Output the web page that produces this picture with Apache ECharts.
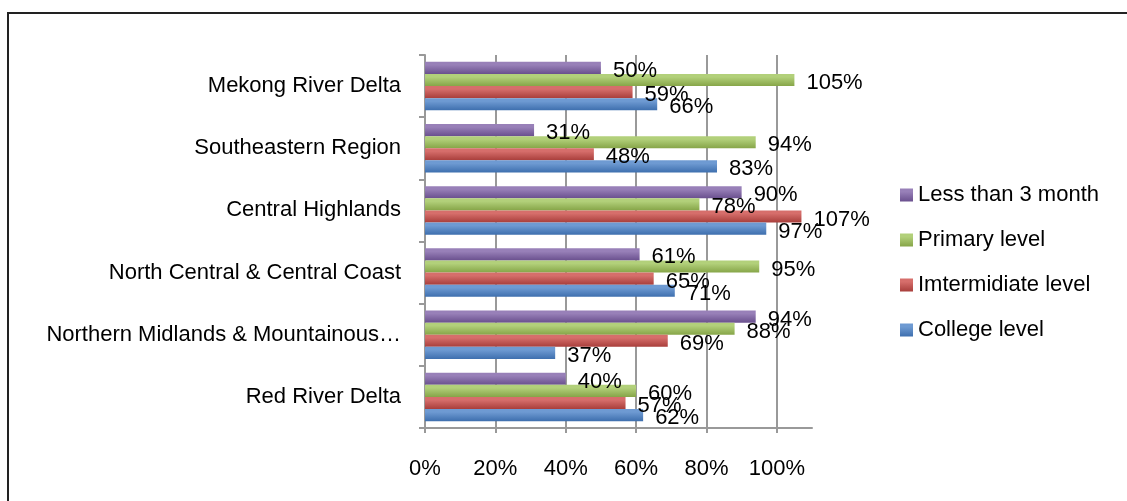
<!DOCTYPE html>
<html>
<head>
<meta charset="utf-8">
<script src="https://cdn.jsdelivr.net/npm/echarts@6/dist/echarts.min.js"></script>
<style>
html,body{margin:0;padding:0;background:#fff;}
#main{width:1127px;height:501px;}
</style>
</head>
<body>
<div id="main"></div>
<script>
// categories, bottom to top
var regions = ["Red River Delta", "Northern Midlands & Mountainous…", "North Central & Central Coast", "Central Highlands", "Southeastern Region", "Mekong River Delta"];
var xTicks = [0, 20, 40, 60, 80, 100];
// values (%)
var college = [62, 37, 71, 97, 83, 66];
var intermediate = [57, 69, 65, 107, 48, 59];
var primary = [60, 88, 95, 78, 94, 105];
var lessThan3 = [40, 94, 61, 90, 31, 50];

var FONT = "Liberation Sans";

function grad(top, bottom){
	return new echarts.graphic.LinearGradient(0, 0, 0, 1, [
		{offset: 0, color: top},
		{offset: 0.25, color: top},
		{offset: 1, color: bottom}
	]);
}
function mkSeries(name, data, c1, c2){
	return {
		name: name, type: 'bar', data: data,
		barGap: '0%', barCategoryGap: '22%',
		itemStyle: {color: grad(c1, c2)},
		label: {show: true, position: 'right', distance: 12, offset: [0, 3], color: '#000', fontSize: 22, fontFamily: FONT, formatter: '{c}%'}
	};
}

var chart = echarts.init(document.getElementById('main'));
var option = {
	animation: false,
	backgroundColor: '#fff',
	textStyle: {fontFamily: FONT},
	grid: {left: 425, right: 315, top: 55, bottom: 73},
	legend: {
		orient: 'vertical', left: 895, top: 179,
		itemWidth: 13, itemHeight: 13, itemGap: 23,
		icon: 'rect',
		textStyle: {fontSize: 22, color: '#000', fontFamily: FONT},
		data: ['Less than 3 month', 'Primary level', 'Imtermidiate level', 'College level']
	},
	xAxis: {
		type: 'value', min: 0, max: 110, interval: 20,
		axisLine: {show: true, lineStyle: {color: '#999', width: 2}},
		axisTick: {show: true, length: 5, customValues: xTicks, lineStyle: {color: '#999', width: 2}},
		axisLabel: {formatter: '{value}%', fontSize: 22, color: '#000', margin: 30, customValues: xTicks},
		splitLine: {show: true, lineStyle: {color: '#999', width: 2}}
	},
	yAxis: {
		type: 'category', data: regions,
		axisLine: {show: true, lineStyle: {color: '#999', width: 2}},
		axisTick: {show: true, length: 6, lineStyle: {color: '#999', width: 2}},
		axisLabel: {fontSize: 22, color: '#000', margin: 24}
	},
	graphic: [{
		type: 'rect', shape: {x: 8, y: 13, width: 1300, height: 700},
		style: {fill: 'none', stroke: '#222', lineWidth: 2}, silent: true
	}],
	series: [
		mkSeries('Less than 3 month', lessThan3, '#9880B8', '#6A508E'),
		mkSeries('Primary level', primary, '#B2D07A', '#86A548'),
		mkSeries('Imtermidiate level', intermediate, '#D66E6B', '#A83E3B'),
		mkSeries('College level', college, '#6E9AD2', '#3E6FAE')
	],
	color: ['#8064A2', '#9BBB59', '#C0504D', '#4F81BD']
};
chart.setOption(option);
</script>
</body>
</html>
